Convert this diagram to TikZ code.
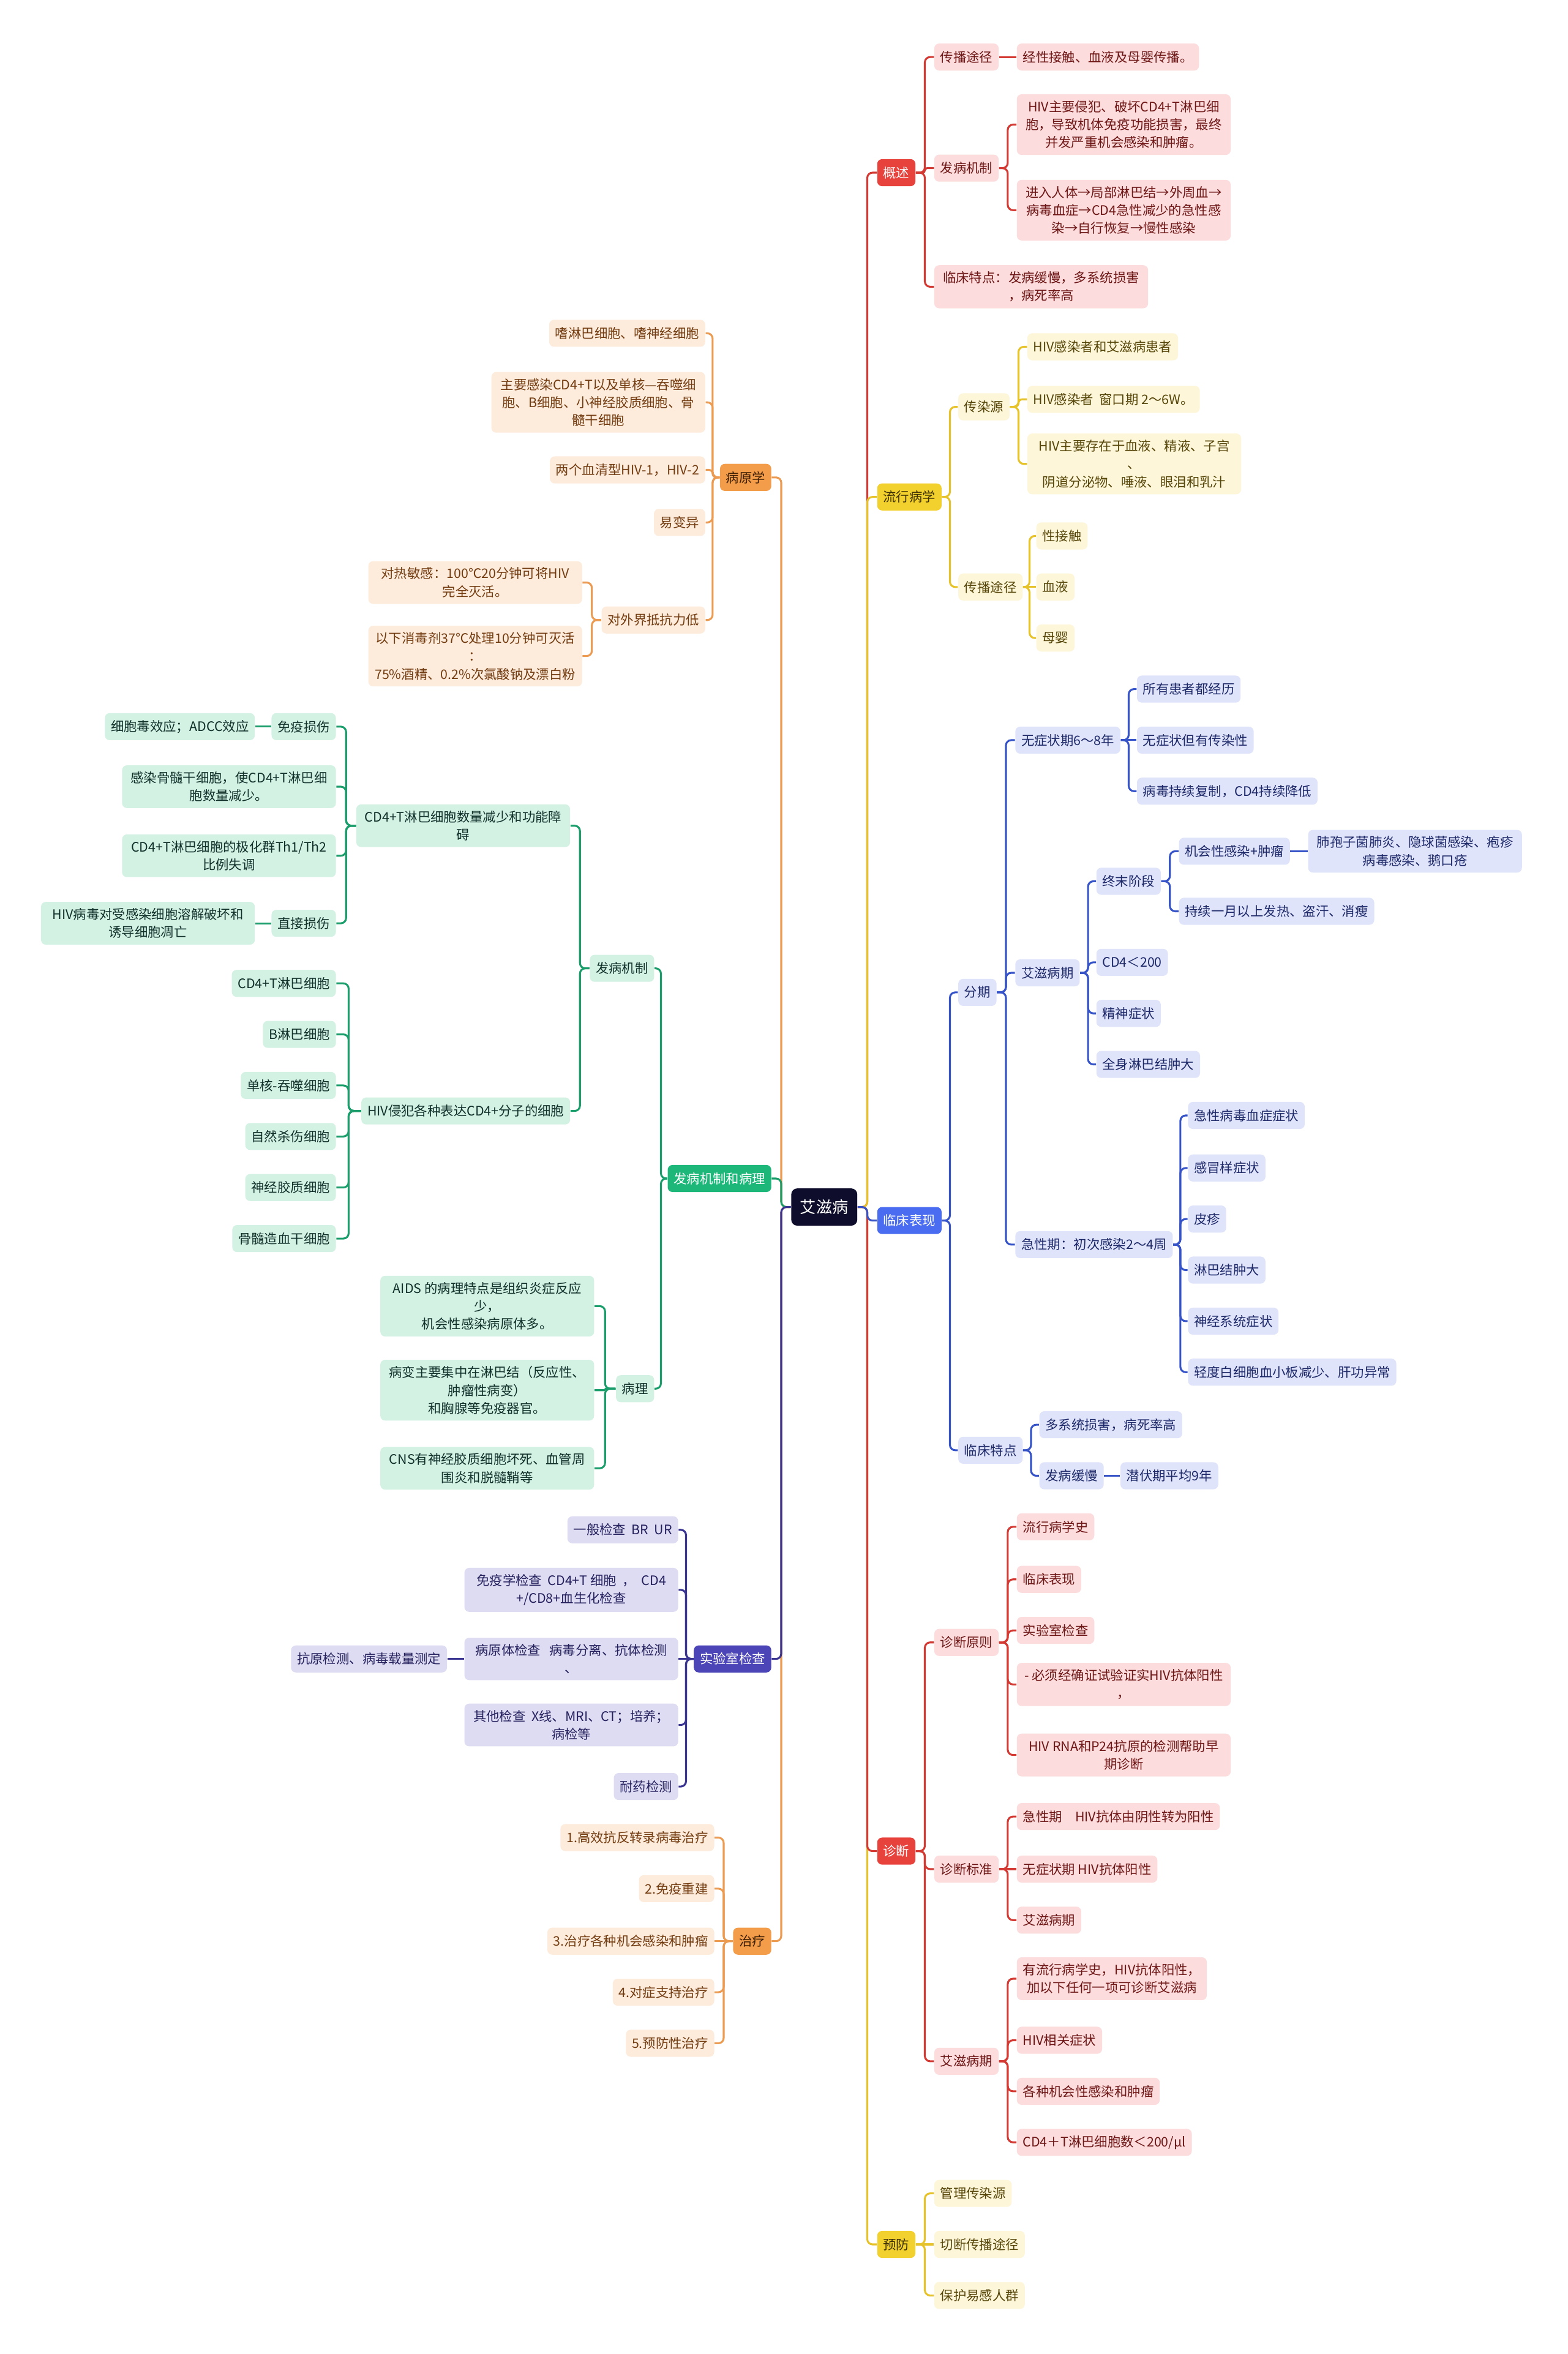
\documentclass[tikz,border=0pt]{standalone}
\usepackage{fontspec}
\setmainfont{Noto Sans CJK SC}
\usetikzlibrary{calc}

\definecolor{rootc}{HTML}{0E0E2C}
\definecolor{redM}{HTML}{E8423C}
\definecolor{redL}{HTML}{FCDCDC}
\definecolor{redT}{HTML}{6E1616}
\definecolor{redE}{HTML}{D23A33}
\definecolor{yelM}{HTML}{F2D02E}
\definecolor{yelL}{HTML}{FDF6D8}
\definecolor{yelT}{HTML}{564508}
\definecolor{yelD}{HTML}{3D3000}
\definecolor{yelE}{HTML}{E6C32B}
\definecolor{bluM}{HTML}{4A6CF0}
\definecolor{bluL}{HTML}{DFE4FB}
\definecolor{bluT}{HTML}{1D2868}
\definecolor{bluE}{HTML}{3654C8}
\definecolor{oraM}{HTML}{F39C4A}
\definecolor{oraL}{HTML}{FDEBDC}
\definecolor{oraT}{HTML}{733C10}
\definecolor{oraD}{HTML}{3A1C00}
\definecolor{oraE}{HTML}{EC9B52}
\definecolor{grnM}{HTML}{1DB77A}
\definecolor{grnL}{HTML}{D3F2E4}
\definecolor{grnT}{HTML}{10302A}
\definecolor{grnE}{HTML}{1B9D6C}
\definecolor{indM}{HTML}{4B45B8}
\definecolor{indL}{HTML}{DEDCF2}
\definecolor{indT}{HTML}{25215E}
\definecolor{indE}{HTML}{3B3592}

\newcommand\fsn{\fontsize{6.2pt}{8.5pt}\selectfont}
\newcommand\fsr{\fontsize{7.6pt}{9pt}\selectfont}

% elbow links: right-hand side and left-hand side of the map
\newcommand\linkr[3]{\draw[link,#1] let \p1=(#2.east), \p2=(#3.west),
  \n1={min(2.5pt,abs(\y2-(\y1))/2)} in (\p1) [rounded corners=\n1]
  -- ({(\x1+\x2)/2},\y1) -- ({(\x1+\x2)/2},\y2) -- (\p2);}
\newcommand\linkl[3]{\draw[link,#1] let \p1=(#2.west), \p2=(#3.east),
  \n1={min(2.5pt,abs(\y2-(\y1))/2)} in (\p1) [rounded corners=\n1]
  -- ({(\x1+\x2)/2},\y1) -- ({(\x1+\x2)/2},\y2) -- (\p2);}

\begin{document}
\begin{tikzpicture}[
  x=0.25mm, y=-0.25mm,
  box/.style={rounded corners=0.8mm,inner xsep=1mm,inner ysep=1.05mm,minimum height=4.5mm,align=center,font=\fsn},
  wide/.style={minimum width=35.6mm},
  topic/.style={rounded corners=1mm,fill=rootc,text=white,font=\fsr,minimum width=11mm,minimum height=6.2mm},
  red/.style={box,fill=redM,text=white}, redl/.style={box,fill=redL,text=redT},
  yel/.style={box,fill=yelM,text=yelD}, yell/.style={box,fill=yelL,text=yelT},
  blu/.style={box,fill=bluM,text=white}, blul/.style={box,fill=bluL,text=bluT},
  ora/.style={box,fill=oraM,text=oraD}, oral/.style={box,fill=oraL,text=oraT},
  grn/.style={box,fill=grnM,text=white}, grnl/.style={box,fill=grnL,text=grnT},
  ind/.style={box,fill=indM,text=white}, indl/.style={box,fill=indL,text=indT},
  link/.style={line width=0.9pt}
]
  \fill[white] (0,0) rectangle (1044,1568);
  \useasboundingbox (0,0) rectangle (1044,1568);

  \node[topic] (aids) at (549,804) {艾滋病};

  % right: 概述
  \node[red,anchor=west] (gs) at (584,115) {概述};
  \node[redl,anchor=west] (gs1) at (622,38) {传播途径};
  \node[redl,anchor=west] (gs1a) at (677,38) {经性接触、血液及母婴传播。};
  \node[redl,anchor=west] (gs2) at (622,112) {发病机制};
  \node[redl,wide,anchor=west] (gs2a) at (677,83) {HIV主要侵犯、破坏CD4+T淋巴细\\胞，导致机体免疫功能损害，最终\\并发严重机会感染和肿瘤。};
  \node[redl,wide,anchor=west] (gs2b) at (677,140) {进入人体→局部淋巴结→外周血→\\病毒血症→CD4急性减少的急性感\\染→自行恢复→慢性感染};
  \node[redl,wide,anchor=west] (gs3) at (622,191) {临床特点：发病缓慢，多系统损害\\，病死率高};

  % right: 流行病学
  \node[yel,anchor=west] (lx) at (584,331) {流行病学};
  \node[yell,anchor=west] (lx1) at (638,271) {传染源};
  \node[yell,anchor=west] (lx1a) at (684,231) {HIV感染者和艾滋病患者};
  \node[yell,anchor=west] (lx1b) at (684,266) {HIV感染者\ \ 窗口期 2～6W。};
  \node[yell,wide,anchor=west] (lx1c) at (684,309) {HIV主要存在于血液、精液、子宫\\、\\阴道分泌物、唾液、眼泪和乳汁};
  \node[yell,anchor=west] (lx2) at (638,391) {传播途径};
  \node[yell,anchor=west] (lx2a) at (690,357) {性接触};
  \node[yell,anchor=west] (lx2b) at (690,391) {血液};
  \node[yell,anchor=west] (lx2c) at (690,425) {母婴};

  % right: 临床表现
  \node[blu,anchor=west] (lc) at (584,813) {临床表现};
  \node[blul,anchor=west] (fq) at (638,661) {分期};
  \node[blul,anchor=west] (wz) at (676,493) {无症状期6～8年};
  \node[blul,anchor=west] (wz1) at (757,459) {所有患者都经历};
  \node[blul,anchor=west] (wz2) at (757,493) {无症状但有传染性};
  \node[blul,anchor=west] (wz3) at (757,527) {病毒持续复制，CD4持续降低};
  \node[blul,anchor=west] (az) at (676,648) {艾滋病期};
  \node[blul,anchor=west] (zm) at (730,587) {终末阶段};
  \node[blul,anchor=west] (zm1) at (785,567) {机会性感染+肿瘤};
  \node[blul,wide,anchor=west] (zm1a) at (871,567) {肺孢子菌肺炎、隐球菌感染、疱疹\\病毒感染、鹅口疮};
  \node[blul,anchor=west] (zm2) at (785,607) {持续一月以上发热、盗汗、消瘦};
  \node[blul,anchor=west] (az2) at (730,641) {CD4＜200};
  \node[blul,anchor=west] (az3) at (730,675) {精神症状};
  \node[blul,anchor=west] (az4) at (730,709) {全身淋巴结肿大};
  \node[blul,anchor=west] (jx) at (676,829) {急性期：初次感染2～4周};
  \node[blul,anchor=west] (jx1) at (791,743) {急性病毒血症症状};
  \node[blul,anchor=west] (jx2) at (791,778) {感冒样症状};
  \node[blul,anchor=west] (jx3) at (791,812) {皮疹};
  \node[blul,anchor=west] (jx4) at (791,846) {淋巴结肿大};
  \node[blul,anchor=west] (jx5) at (791,880) {神经系统症状};
  \node[blul,anchor=west] (jx6) at (791,914) {轻度白细胞血小板减少、肝功异常};
  \node[blul,anchor=west] (td) at (638,966) {临床特点};
  \node[blul,anchor=west] (td1) at (692,949) {多系统损害，病死率高};
  \node[blul,anchor=west] (td2) at (692,983) {发病缓慢};
  \node[blul,anchor=west] (td2a) at (746,983) {潜伏期平均9年};

  % right: 诊断
  \node[red,anchor=west] (zd) at (584,1233) {诊断};
  \node[redl,anchor=west] (zy) at (622,1094) {诊断原则};
  \node[redl,anchor=west] (zy1) at (677,1017) {流行病学史};
  \node[redl,anchor=west] (zy2) at (677,1052) {临床表现};
  \node[redl,anchor=west] (zy3) at (677,1086) {实验室检查};
  \node[redl,wide,anchor=west] (zy4) at (677,1122) {- 必须经确证试验证实HIV抗体阳性\\，};
  \node[redl,wide,anchor=west] (zy5) at (677,1169) {HIV RNA和P24抗原的检测帮助早\\期诊断};
  \node[redl,anchor=west] (zb) at (622,1245) {诊断标准};
  \node[redl,anchor=west] (zb1) at (677,1210) {急性期　HIV抗体由阴性转为阳性};
  \node[redl,anchor=west] (zb2) at (677,1245) {无症状期 HIV抗体阳性};
  \node[redl,anchor=west] (zb3) at (677,1279) {艾滋病期};
  \node[redl,anchor=west] (za) at (622,1373) {艾滋病期};
  \node[redl,anchor=west] (za1) at (677,1318) {有流行病学史，HIV抗体阳性，\\加以下任何一项可诊断艾滋病};
  \node[redl,anchor=west] (za2) at (677,1359) {HIV相关症状};
  \node[redl,anchor=west] (za3) at (677,1393) {各种机会性感染和肿瘤};
  \node[redl,anchor=west] (za4) at (677,1427) {CD4＋T淋巴细胞数＜200/μl};

  % right: 预防
  \node[yel,anchor=west] (yf) at (584,1495) {预防};
  \node[yell,anchor=west] (yf1) at (622,1461) {管理传染源};
  \node[yell,anchor=west] (yf2) at (622,1495) {切断传播途径};
  \node[yell,anchor=west] (yf3) at (622,1529) {保护易感人群};

  % left: 病原学
  \node[ora,anchor=east] (by) at (514,318) {病原学};
  \node[oral,anchor=east] (by1) at (470,222) {嗜淋巴细胞、嗜神经细胞};
  \node[oral,wide,anchor=east] (by2) at (470,268) {主要感染CD4+T以及单核—吞噬细\\胞、B细胞、小神经胶质细胞、骨\\髓干细胞};
  \node[oral,anchor=east] (by3) at (470,313) {两个血清型HIV-1，HIV-2};
  \node[oral,anchor=east] (by4) at (470,348) {易变异};
  \node[oral,anchor=east] (by5) at (470,413) {对外界抵抗力低};
  \node[oral,wide,anchor=east] (by5a) at (388,388) {对热敏感：100℃20分钟可将HIV\\完全灭活。};
  \node[oral,wide,anchor=east] (by5b) at (388,437) {以下消毒剂37℃处理10分钟可灭活\\：\\75\%酒精、0.2\%次氯酸钠及漂白粉};

  % left: 发病机制和病理
  \node[grn,anchor=east] (fb) at (514,785) {发病机制和病理};
  \node[grnl,anchor=east] (jz) at (436,645) {发病机制};
  \node[grnl,wide,anchor=east] (cd) at (380,550) {CD4+T淋巴细胞数量减少和功能障\\碍};
  \node[grnl,anchor=east] (my) at (224,484) {免疫损伤};
  \node[grnl,anchor=east] (mya) at (170,484) {细胞毒效应；ADCC效应};
  \node[grnl,wide,anchor=east] (cd2) at (224,524) {感染骨髓干细胞，使CD4+T淋巴细\\胞数量减少。};
  \node[grnl,wide,anchor=east] (cd3) at (224,570) {CD4+T淋巴细胞的极化群Th1/Th2\\比例失调};
  \node[grnl,anchor=east] (zj) at (224,615) {直接损伤};
  \node[grnl,wide,anchor=east] (zja) at (170,615) {HIV病毒对受感染细胞溶解破坏和\\诱导细胞凋亡};
  \node[grnl,anchor=east] (qf) at (380,740) {HIV侵犯各种表达CD4+分子的细胞};
  \node[grnl,anchor=east] (qf1) at (224,655) {CD4+T淋巴细胞};
  \node[grnl,anchor=east] (qf2) at (224,689) {B淋巴细胞};
  \node[grnl,anchor=east] (qf3) at (224,723) {单核-吞噬细胞};
  \node[grnl,anchor=east] (qf4) at (224,757) {自然杀伤细胞};
  \node[grnl,anchor=east] (qf5) at (224,791) {神经胶质细胞};
  \node[grnl,anchor=east] (qf6) at (224,825) {骨髓造血干细胞};
  \node[grnl,anchor=east] (bl) at (436,925) {病理};
  \node[grnl,wide,anchor=east] (bl1) at (396,870) {AIDS 的病理特点是组织炎症反应\\少，\\机会性感染病原体多。};
  \node[grnl,wide,anchor=east] (bl2) at (396,926) {病变主要集中在淋巴结（反应性、\\肿瘤性病变）\\和胸腺等免疫器官。};
  \node[grnl,wide,anchor=east] (bl3) at (396,978) {CNS有神经胶质细胞坏死、血管周\\围炎和脱髓鞘等};

  % left: 实验室检查
  \node[ind,anchor=east] (sy) at (514,1105) {实验室检查};
  \node[indl,anchor=east] (sy1) at (452,1019) {一般检查\ \ BR\ \ UR};
  \node[indl,wide,anchor=east] (sy2) at (452,1059) {免疫学检查\ \ CD4+T 细胞\ \ ，\ \ CD4\\+/CD8+血生化检查};
  \node[indl,wide,anchor=east] (sy3) at (452,1105) {病原体检查\ \ \ 病毒分离、抗体检测\\、};
  \node[indl,anchor=east] (sy3a) at (298,1105) {抗原检测、病毒载量测定};
  \node[indl,wide,anchor=east] (sy4) at (452,1149) {其他检查\ \ X线、MRI、CT；培养；\\病检等};
  \node[indl,anchor=east] (sy5) at (452,1190) {耐药检测};

  % left: 治疗
  \node[ora,anchor=east] (zl) at (514,1293) {治疗};
  \node[oral,anchor=east] (zl1) at (476,1224) {1.高效抗反转录病毒治疗};
  \node[oral,anchor=east] (zl2) at (476,1258) {2.免疫重建};
  \node[oral,anchor=east] (zl3) at (476,1293) {3.治疗各种机会感染和肿瘤};
  \node[oral,anchor=east] (zl4) at (476,1327) {4.对症支持治疗};
  \node[oral,anchor=east] (zl5) at (476,1361) {5.预防性治疗};

  % links
  \linkr{redE}{aids}{gs}
  \linkr{yelE}{aids}{lx}
  \linkr{yelE}{aids}{yf}
  \linkr{redE}{aids}{zd}
  \linkr{bluE}{aids}{lc}
  \linkl{oraE}{aids}{by}
  \linkl{oraE}{aids}{zl}
  \linkl{grnE}{aids}{fb}
  \linkl{indE}{aids}{sy}

  \foreach \c in {gs1,gs2,gs3} {\linkr{redE}{gs}{\c}}
  \linkr{redE}{gs1}{gs1a}
  \foreach \c in {gs2a,gs2b} {\linkr{redE}{gs2}{\c}}
  \foreach \c in {lx1,lx2} {\linkr{yelE}{lx}{\c}}
  \foreach \c in {lx1a,lx1b,lx1c} {\linkr{yelE}{lx1}{\c}}
  \foreach \c in {lx2a,lx2b,lx2c} {\linkr{yelE}{lx2}{\c}}
  \foreach \c in {fq,td} {\linkr{bluE}{lc}{\c}}
  \foreach \c in {wz,az,jx} {\linkr{bluE}{fq}{\c}}
  \foreach \c in {wz1,wz2,wz3} {\linkr{bluE}{wz}{\c}}
  \foreach \c in {zm,az2,az3,az4} {\linkr{bluE}{az}{\c}}
  \foreach \c in {zm1,zm2} {\linkr{bluE}{zm}{\c}}
  \linkr{bluE}{zm1}{zm1a}
  \foreach \c in {jx1,jx2,jx3,jx4,jx5,jx6} {\linkr{bluE}{jx}{\c}}
  \foreach \c in {td1,td2} {\linkr{bluE}{td}{\c}}
  \linkr{bluE}{td2}{td2a}
  \foreach \c in {zy,zb,za} {\linkr{redE}{zd}{\c}}
  \foreach \c in {zy1,zy2,zy3,zy4,zy5} {\linkr{redE}{zy}{\c}}
  \foreach \c in {zb1,zb2,zb3} {\linkr{redE}{zb}{\c}}
  \foreach \c in {za1,za2,za3,za4} {\linkr{redE}{za}{\c}}
  \foreach \c in {yf1,yf2,yf3} {\linkr{yelE}{yf}{\c}}

  \foreach \c in {by1,by2,by3,by4,by5} {\linkl{oraE}{by}{\c}}
  \foreach \c in {by5a,by5b} {\linkl{oraE}{by5}{\c}}
  \foreach \c in {jz,bl} {\linkl{grnE}{fb}{\c}}
  \foreach \c in {cd,qf} {\linkl{grnE}{jz}{\c}}
  \foreach \c in {my,cd2,cd3,zj} {\linkl{grnE}{cd}{\c}}
  \linkl{grnE}{my}{mya}
  \linkl{grnE}{zj}{zja}
  \foreach \c in {qf1,qf2,qf3,qf4,qf5,qf6} {\linkl{grnE}{qf}{\c}}
  \foreach \c in {bl1,bl2,bl3} {\linkl{grnE}{bl}{\c}}
  \foreach \c in {sy1,sy2,sy3,sy4,sy5} {\linkl{indE}{sy}{\c}}
  \linkl{indE}{sy3}{sy3a}
  \foreach \c in {zl1,zl2,zl3,zl4,zl5} {\linkl{oraE}{zl}{\c}}
\end{tikzpicture}
\end{document}
